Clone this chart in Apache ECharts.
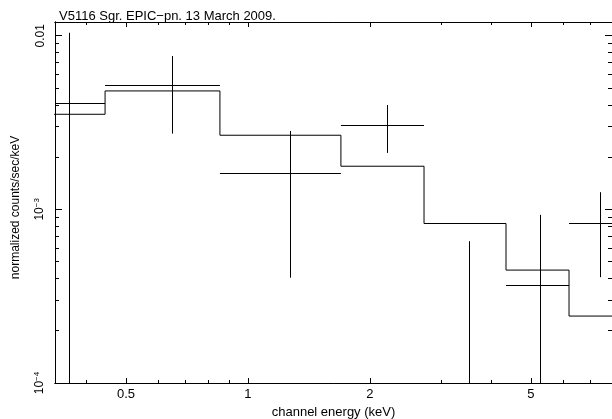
<!DOCTYPE html>
<html>
<head>
<meta charset="utf-8">
<script src="https://cdn.jsdelivr.net/npm/echarts@6/dist/echarts.min.js"></script>
<style>
html,body{margin:0;padding:0;background:#fff;}
#chart{width:612px;height:419px;}
</style>
</head>
<body>
<div id="chart"></div>
<script>
// ---- data ----
const chartTitle = 'V5116 Sgr. EPIC\u2212pn. 13 March 2009.';
const xName = 'channel energy (keV)';
const yName = 'normalized counts/sec/keV';

// spectral bins (keV)
const binLo  = [0.279, 0.444, 0.853, 1.697, 2.722, 4.338, 6.207];
const binHi  = [0.444, 0.853, 1.697, 2.722, 4.338, 6.207, 8.60];
const binMid = [0.362, 0.651, 1.276, 2.209, 3.535, 5.27, 7.404];
// data (counts/sec/keV) with error range
const rate   = [0.00408, 0.00516, 0.001615, 0.00306, 0.00005, 0.000366, 0.000825];
const rateLo = [0.000001, 0.00273, 0.000404, 0.002114, 0.000001, 0.000001, 0.000407];
const rateHi = [0.0104, 0.00764, 0.00283, 0.00399, 0.000656, 0.00093, 0.001256];
// model (step histogram)
const model  = [0.00353, 0.00481, 0.002673, 0.001772, 0.000829, 0.000447, 0.000243];

// axis ticks
const xMajorTicks = [0.5, 1, 2, 5];
const xMajorLabels = ['0.5', '1', '2', '5'];
const xMinorTicks = [0.4, 0.6, 0.7, 0.8, 0.9, 3, 4, 6, 7];
const yMajorTicks = [0.0001, 0.001, 0.01];
const yMajorLabels = ['{b|10}{s|\u22124}', '{b|10}{s|\u22123}', '{b|0.01}'];
const yMinorTicks = [0.0002, 0.0003, 0.0004, 0.0005, 0.0006, 0.0007, 0.0008, 0.0009,
                     0.002, 0.003, 0.004, 0.005, 0.006, 0.007, 0.008, 0.009];

const xMin = 0.334, xMax = 7.925;
const yMin = 0.0001, yMax = 0.012;

// ---- build options ----
const FONT = '"Liberation Sans", Arial, Helvetica, sans-serif';
const INK = '#000';

function lookup(ticks, labels) {
  return function (v) {
    let best = 0, bd = Infinity;
    for (let i = 0; i < ticks.length; i++) {
      const d = Math.abs(Math.log(v) - Math.log(ticks[i]));
      if (d < bd) { bd = d; best = i; }
    }
    return labels[best];
  };
}

function xAxisDef(pos, ticks, len, withLabels) {
  const a = {
    type: 'log', logBase: 10, position: pos, min: xMin, max: xMax,
    gridIndex: 0,
    axisLine: { show: true, lineStyle: { color: INK, width: 1 } },
    axisTick: { show: true, inside: true, length: len, customValues: ticks,
                lineStyle: { color: INK, width: 1 } },
    axisLabel: { show: false },
    splitLine: { show: false },
    minorTick: { show: false }, minorSplitLine: { show: false }
  };
  if (withLabels) {
    a.axisLabel = { show: true, customValues: xMajorTicks, margin: 5,
      formatter: lookup(xMajorTicks, xMajorLabels),
      color: INK, fontSize: 13, fontFamily: FONT };
    a.name = xName; a.nameLocation = 'middle'; a.nameGap = 18;
    a.nameTextStyle = { color: INK, fontSize: 13, fontFamily: FONT };
  }
  return a;
}
function yAxisDef(pos, ticks, len, withLabels) {
  const a = {
    type: 'log', logBase: 10, position: pos, min: yMin, max: yMax,
    gridIndex: 0,
    axisLine: { show: true, lineStyle: { color: INK, width: 1 } },
    axisTick: { show: true, inside: true, length: len, customValues: ticks,
                lineStyle: { color: INK, width: 1 } },
    axisLabel: { show: false },
    splitLine: { show: false },
    minorTick: { show: false }, minorSplitLine: { show: false }
  };
  if (withLabels) {
    a.axisLabel = { show: true, customValues: yMajorTicks, margin: 8, rotate: 90,
      formatter: lookup(yMajorTicks, yMajorLabels),
      color: INK, fontFamily: FONT,
      rich: {
        b: { fontSize: 12, fontFamily: FONT, color: INK },
        s: { fontSize: 8, fontFamily: FONT, color: INK, padding: [0, 0, 6, 0] }
      } };
    a.name = yName; a.nameLocation = 'middle'; a.nameGap = 33;
    a.nameTextStyle = { color: INK, fontSize: 12, fontFamily: FONT, padding: [0, 10, 0, 0] };
  }
  return a;
}

const errData = binLo.map((lo, i) => [lo, binHi[i], binMid[i], rate[i], rateLo[i], rateHi[i]]);
const modelData = binLo.map((lo, i) => [lo, model[i]]);
modelData.push([binHi[binHi.length - 1], model[model.length - 1]]);

function crisp(v) { return Math.round(v - 0.5) + 0.5; }

const option = {
  animation: false,
  backgroundColor: '#fff',
  title: {
    text: chartTitle, left: 54, top: 5,
    textStyle: { color: INK, fontSize: 13, fontWeight: 'normal', fontFamily: FONT }
  },
  grid: { left: 55, top: 22, width: 557, height: 361, containLabel: false, outerBoundsMode: 'none' },
  xAxis: [
    xAxisDef('bottom', xMajorTicks, 5, true),
    xAxisDef('bottom', xMinorTicks, 3, false),
    xAxisDef('top', xMajorTicks, 5, false),
    xAxisDef('top', xMinorTicks, 3, false)
  ],
  yAxis: [
    yAxisDef('left', yMajorTicks, 7, true),
    yAxisDef('left', yMinorTicks, 4, false),
    yAxisDef('right', yMajorTicks, 7, false),
    yAxisDef('right', yMinorTicks, 4, false)
  ],
  series: [
    {
      type: 'line', name: 'model', xAxisIndex: 0, yAxisIndex: 0,
      data: modelData, step: 'end', showSymbol: false, symbol: 'none',
      lineStyle: { color: INK, width: 1 }, clip: true, silent: true
    },
    {
      type: 'custom', name: 'data', xAxisIndex: 0, yAxisIndex: 0,
      data: errData, clip: true, silent: true,
      renderItem: function (params, api) {
        const cs = params.coordSys;
        const top = cs.y, bot = cs.y + cs.height, left = cs.x, right = cs.x + cs.width;
        const lo = api.coord([api.value(0), api.value(3)]);
        const hi = api.coord([api.value(1), api.value(3)]);
        const c1 = api.coord([api.value(2), api.value(4)]);
        const c2 = api.coord([api.value(2), api.value(5)]);
        const children = [];
        const yy = crisp(lo[1]);
        if (lo[1] >= top && lo[1] <= bot) {
          children.push({ type: 'line',
            shape: { x1: Math.max(left, lo[0]), y1: yy, x2: Math.min(right, hi[0]), y2: yy },
            style: { stroke: INK, lineWidth: 1 } });
        }
        const xx = crisp(c1[0]);
        const y1 = Math.min(bot, Math.max(top, c1[1]));
        const y2 = Math.min(bot, Math.max(top, c2[1]));
        children.push({ type: 'line',
          shape: { x1: xx, y1: y1, x2: xx, y2: y2 },
          style: { stroke: INK, lineWidth: 1 } });
        return { type: 'group', children: children };
      }
    }
  ]
};

const chart = echarts.init(document.getElementById('chart'), null, { renderer: 'canvas' });
chart.setOption(option);
</script>
</body>
</html>
